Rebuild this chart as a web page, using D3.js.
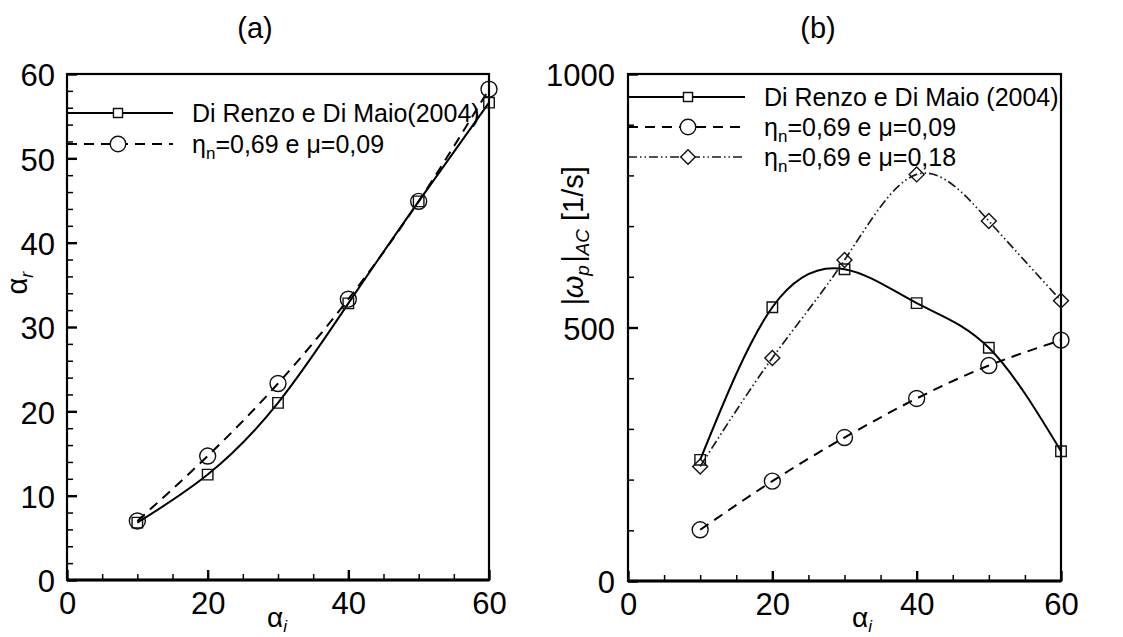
<!DOCTYPE html>
<html>
<head>
<meta charset="utf-8">
<script src="https://cdn.jsdelivr.net/npm/d3@7"></script>
<style>
  body { margin: 0; background: #fff; }
  text { font-family: "Liberation Sans", Arial, sans-serif; fill: #000; }
</style>
</head>
<body>
<svg id="chart" width="1123" height="637"></svg>
<script>
// incidence angles (deg)
const anglesIn = [10, 20, 30, 40, 50, 60];

// (a) rebound angle alpha_r
const reflDiRenzo = [6.8, 12.5, 21.0, 32.8, 44.9, 56.6];
const reflMu009   = [7.0, 14.7, 23.3, 33.3, 44.9, 58.2];

// (b) rebound angular velocity |omega_p|_AC [1/s]
const omegaDiRenzo = [239, 540, 615, 548, 460, 256];
const omegaMu009   = [101, 197, 283, 360, 425, 475];
const omegaMu018   = [226, 440, 633, 802, 710, 553];

// axis ticks
const xTicks  = [0, 20, 40, 60];
const yTicksA = [0, 10, 20, 30, 40, 50, 60];
const yTicksB = [0, 500, 1000];

const svg = d3.select("#chart");
svg.append("rect").attr("width", 1123).attr("height", 637).attr("fill", "#fff");

const STYLES = {
  solid:   { dash: null,                 width: 2.0, color: "#000" },
  dashed:  { dash: "10,7",               width: 2.0, color: "#000" },
  dashdot: { dash: "9,3,1.5,3,1.5,3",    width: 1.7, color: "#1a1a1a" }
};

const SYMBOLS = {
  square:  { type: d3.symbolSquare, size: 110, rot: 0 },
  circle:  { type: d3.symbolCircle, size: 200, rot: 0 },
  diamond: { type: d3.symbolSquare, size: 112, rot: 45 }
};

function drawPanel(p) {
  const x = d3.scaleLinear().domain([0, 60]).range([p.left, p.right]);
  const y = d3.scaleLinear().domain([0, p.yMax]).range([p.bottom, p.top]);
  const g = svg.append("g");

  // minor ticks
  g.append("g").attr("transform", `translate(0,${p.bottom})`)
    .call(d3.axisBottom(x).tickValues(d3.range(0, 61, 5).filter(v => v % 20)).tickSize(-6).tickFormat(""))
    .call(s => { s.select(".domain").remove(); s.selectAll("line").attr("stroke-width", 1.5); });
  g.append("g").attr("transform", `translate(${p.left},0)`)
    .call(d3.axisLeft(y).tickValues(d3.range(0, p.yMax + 1e-9, p.yMinor).filter(v => !p.yTicks.includes(v))).tickSize(-6).tickFormat(""))
    .call(s => { s.select(".domain").remove(); s.selectAll("line").attr("stroke-width", 1.5); });

  // major ticks with labels
  g.append("g").attr("transform", `translate(0,${p.bottom})`)
    .call(d3.axisBottom(x).tickValues(xTicks).tickSize(-10).tickPadding(12).tickFormat(d3.format("d")))
    .call(s => {
      s.select(".domain").remove();
      s.selectAll("line").attr("stroke-width", 2.4);
      s.selectAll("text").attr("font-size", 31).attr("font-family", "Liberation Sans, Arial, sans-serif").attr("fill", "#000");
    });
  g.append("g").attr("transform", `translate(${p.left},0)`)
    .call(d3.axisLeft(y).tickValues(p.yTicks).tickSize(-10).tickPadding(p.yPad).tickFormat(d3.format("d")))
    .call(s => {
      s.select(".domain").remove();
      s.selectAll("line").attr("stroke-width", 2.4);
      s.selectAll("text").attr("font-size", 31).attr("dy", "0.38em").attr("font-family", "Liberation Sans, Arial, sans-serif").attr("fill", "#000");
    });

  // frame
  g.append("rect")
    .attr("x", p.left).attr("y", p.top)
    .attr("width", p.right - p.left).attr("height", p.bottom - p.top)
    .attr("fill", "none").attr("stroke", "#000").attr("stroke-width", 2.2);
  g.append("line")
    .attr("x1", p.left).attr("x2", p.right).attr("y1", p.bottom).attr("y2", p.bottom)
    .attr("stroke", "#000").attr("stroke-width", 3);

  const line = d3.line().x((d, i) => x(anglesIn[i])).y(d => y(d)).curve(d3.curveNatural);

  p.series.forEach((s, k) => {
    const st = STYLES[s.style];
    const sym = SYMBOLS[s.symbol];

    // curve
    g.append("path").datum(s.values)
      .attr("d", line)
      .attr("fill", "none").attr("stroke", st.color)
      .attr("stroke-width", st.width)
      .attr("stroke-dasharray", st.dash);

    // markers
    g.selectAll(null).data(s.values).join("path")
      .attr("d", d3.symbol().type(sym.type).size(sym.size))
      .attr("transform", (d, i) => `translate(${x(anglesIn[i])},${y(d)}) rotate(${sym.rot})`)
      .attr("fill", "none").attr("stroke", "#111").attr("stroke-width", 1.4);

    // legend entry
    const ly = p.legY[k];
    g.append("line")
      .attr("x1", p.left).attr("x2", p.legLineEnd).attr("y1", ly).attr("y2", ly)
      .attr("stroke", st.color).attr("stroke-width", st.width)
      .attr("stroke-dasharray", st.dash);
    g.append("path")
      .attr("d", d3.symbol().type(sym.type).size(sym.size * (s.symbol === "square" ? 0.75 : 0.95)))
      .attr("transform", `translate(${p.legMarkX},${ly}) rotate(${sym.rot})`)
      .attr("fill", "#fff").attr("stroke", "#111").attr("stroke-width", 1.4);

    const t = g.append("text").attr("x", p.legTextX).attr("y", ly + 9).attr("font-size", 25);
    s.label.forEach(part => {
      const ts = t.append("tspan").text(part.t);
      if (part.sub) ts.attr("font-size", 17).attr("dy", 6);
      if (part.up) ts.attr("dy", -6);
    });
  });

  // x axis title
  const xt = g.append("text").attr("x", p.xLabelX).attr("y", 627).attr("font-size", 28).attr("text-anchor", "middle");
  xt.append("tspan").text("α");
  xt.append("tspan").text("i").attr("font-size", 17).attr("font-style", "italic").attr("dy", 5);

  // panel title
  g.append("text").attr("x", p.titleX).attr("y", 38).attr("font-size", 29)
    .attr("text-anchor", "middle").text(p.title);
}

const etaLabel = (mu) => [
  { t: "η" }, { t: "n", sub: true }, { t: "=0,69 e μ=" + mu, up: true }
];

drawPanel({
  left: 67, right: 489, top: 74, bottom: 580,
  yMax: 60, yTicks: yTicksA, yMinor: 2, yPad: 12,
  legY: [113, 144], legLineEnd: 173, legMarkX: 118, legTextX: 192,
  xLabelX: 277, titleX: 255, title: "(a)",
  series: [
    { values: reflDiRenzo, style: "solid",  symbol: "square", label: [{ t: "Di Renzo e Di Maio(2004)" }] },
    { values: reflMu009,   style: "dashed", symbol: "circle", label: etaLabel("0,09") }
  ]
});

drawPanel({
  left: 628, right: 1061, top: 74, bottom: 581,
  yMax: 1000, yTicks: yTicksB, yMinor: 100, yPad: 13,
  legY: [97, 127, 157], legLineEnd: 745, legMarkX: 688, legTextX: 764,
  xLabelX: 862, titleX: 818, title: "(b)",
  series: [
    { values: omegaDiRenzo, style: "solid",   symbol: "square",  label: [{ t: "Di Renzo e Di Maio (2004)" }] },
    { values: omegaMu009,   style: "dashed",  symbol: "circle",  label: etaLabel("0,09") },
    { values: omegaMu018,   style: "dashdot", symbol: "diamond", label: etaLabel("0,18") }
  ]
});

// y axis titles (rotated)
const ya = svg.append("text").attr("transform", "translate(27,283) rotate(-90)")
  .attr("font-size", 29).attr("text-anchor", "middle");
ya.append("tspan").text("α");
ya.append("tspan").text("r").attr("font-size", 18).attr("font-style", "italic").attr("dy", 6);

const yb = svg.append("text").attr("transform", "translate(583,236) rotate(-90)")
  .attr("font-size", 29).attr("text-anchor", "middle");
yb.append("tspan").text("|ω").attr("font-style", "italic");
yb.append("tspan").text("p").attr("font-size", 19).attr("font-style", "italic").attr("dy", 6);
yb.append("tspan").text("|").attr("font-style", "italic").attr("dy", -6).attr("dx", 2);
yb.append("tspan").text("AC").attr("font-size", 19).attr("font-style", "italic").attr("dy", 6);
yb.append("tspan").text(" [1/s]").attr("dy", -6);
</script>
</body>
</html>
